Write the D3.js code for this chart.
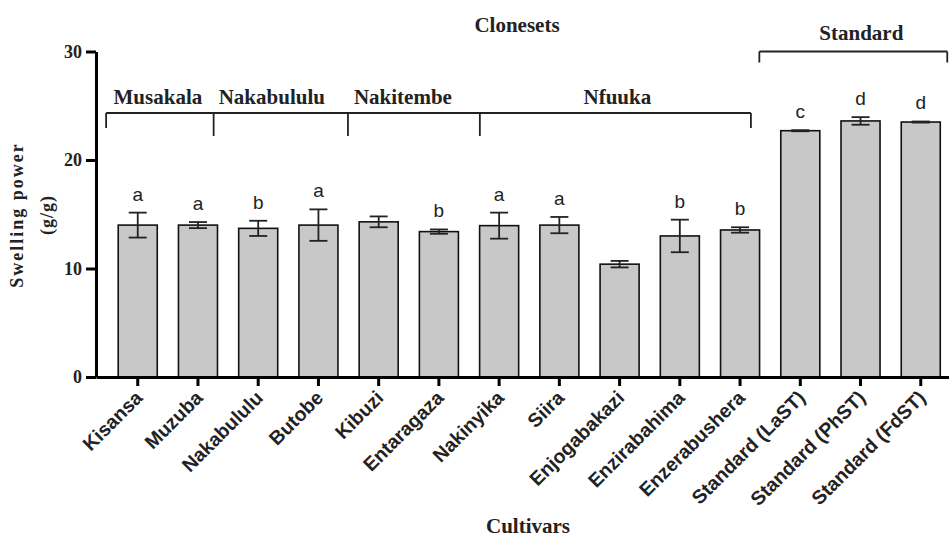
<!DOCTYPE html>
<html>
<head>
<meta charset="utf-8">
<script src="https://cdn.jsdelivr.net/npm/d3@7"></script>
<style>
  html, body { margin: 0; padding: 0; background: #fff; }
  svg { display: block; }
</style>
</head>
<body>
<svg id="chart" width="949" height="537"></svg>
<script>
// Swelling power (g/g) of banana cultivars and standard starches
const cultivars = ["Kisansa", "Muzuba", "Nakabululu", "Butobe", "Kibuzi", "Entaragaza",
  "Nakinyika", "Siira", "Enjogabakazi", "Enzirabahima", "Enzerabushera",
  "Standard (LaST)", "Standard (PhST)", "Standard (FdST)"];
const means = [14.0, 14.0, 13.7, 14.0, 14.3, 13.4, 13.95, 14.0, 10.4, 13.0, 13.55, 22.7, 23.6, 23.5];
const errors = [1.15, 0.28, 0.7, 1.45, 0.5, 0.2, 1.2, 0.75, 0.3, 1.5, 0.25, 0.05, 0.35, 0.05];
const letters = ["a", "a", "b", "a", "", "b", "a", "a", "", "b", "b", "c", "d", "d"];
const yTicks = [0, 10, 20, 30];

// clone-set groups
const cloneGroups = ["Musakala", "Nakabululu", "Nakitembe", "Nfuuka"];
const standardGroup = "Standard";
const standardRange = [11, 13];

const svg = d3.select("#chart");
const serif = "'Liberation Serif', 'Times New Roman', serif";
const sans = "'Liberation Sans', Arial, sans-serif";

const x0 = 96, yBase = 377, yTop = 51.5;
const x = d3.scaleBand().domain(cultivars).range([x0, 962.5])
  .paddingInner(0.352).paddingOuter(0.369);
const y = d3.scaleLinear().domain([0, 30]).range([yBase, yTop]);
const step = x.step();
const cx = i => x(cultivars[i]) + x.bandwidth() / 2;

// bars
svg.append("g").selectAll("rect").data(cultivars).join("rect")
  .attr("x", d => x(d))
  .attr("y", (d, i) => y(means[i]))
  .attr("width", x.bandwidth())
  .attr("height", (d, i) => yBase - y(means[i]))
  .attr("fill", "#c8c8c8")
  .attr("stroke", "#111")
  .attr("stroke-width", 1.6);

// error bars
const eb = svg.append("g").attr("stroke", "#222").attr("stroke-width", 1.8).attr("fill", "none");
cultivars.forEach((c, i) => {
  const xc = cx(i), hi = y(means[i] + errors[i]), lo = y(means[i] - errors[i]);
  eb.append("line").attr("x1", xc).attr("x2", xc).attr("y1", hi).attr("y2", lo);
  eb.append("line").attr("x1", xc - 9).attr("x2", xc + 9).attr("y1", hi).attr("y2", hi);
  eb.append("line").attr("x1", xc - 9).attr("x2", xc + 9).attr("y1", lo).attr("y2", lo);
});

// significance letters
svg.append("g").selectAll("text").data(cultivars).join("text")
  .attr("x", (d, i) => cx(i))
  .attr("y", (d, i) => y(means[i] + errors[i]) - 12)
  .attr("text-anchor", "middle")
  .attr("font-family", sans)
  .attr("font-size", 19)
  .attr("fill", "#222")
  .text((d, i) => letters[i]);

// y axis
const yAxis = svg.append("g").attr("transform", `translate(${x0},0)`)
  .call(d3.axisLeft(y).tickValues(yTicks).tickSize(10).tickSizeOuter(0).tickPadding(4));
yAxis.select(".domain").attr("stroke", "#000").attr("stroke-width", 3);
yAxis.selectAll(".tick line").attr("stroke", "#000").attr("stroke-width", 3);
yAxis.selectAll(".tick text")
  .attr("font-family", serif).attr("font-weight", "bold").attr("font-size", 18).attr("fill", "#222");

// x axis
const xAxis = svg.append("g").attr("transform", `translate(0,${yBase})`)
  .call(d3.axisBottom(x).tickSize(9).tickSizeOuter(0));
xAxis.select(".domain").attr("stroke", "#000").attr("stroke-width", 3);
xAxis.selectAll(".tick line").attr("stroke", "#000").attr("stroke-width", 3);
xAxis.selectAll(".tick text")
  .attr("x", 0).attr("y", 0).attr("dy", 0)
  .attr("transform", "translate(6,22) rotate(-45)")
  .attr("text-anchor", "end")
  .attr("font-family", sans).attr("font-weight", "bold").attr("font-size", 19.5).attr("fill", "#222");

// bracket helper: position between categories, offset in steps
const edge = (i, f) => cx(i) + f * step;
const br = svg.append("g").attr("stroke", "#222").attr("stroke-width", 1.8).attr("fill", "none");

// clone-set bracket
const cloneY = 113;
const cloneEdges = [edge(0, -0.525), edge(1, 0.26), edge(3, 0.49), edge(6, -0.32), edge(10, 0.18)];
br.append("line").attr("x1", cloneEdges[0]).attr("x2", cloneEdges[4]).attr("y1", cloneY).attr("y2", cloneY);
cloneEdges.forEach((e, k) => {
  const end = (k === 0 || k === cloneEdges.length - 1);
  br.append("line").attr("x1", e).attr("x2", e).attr("y1", cloneY).attr("y2", cloneY + (end ? 15 : 23));
});
const cloneLabelShift = [-2, -9, -11, 2];
cloneGroups.forEach((g, k) => {
  svg.append("text")
    .attr("x", (cloneEdges[k] + cloneEdges[k + 1]) / 2 + cloneLabelShift[k])
    .attr("y", 104)
    .attr("text-anchor", "middle")
    .attr("font-family", serif).attr("font-weight", "bold").attr("font-size", 21).attr("fill", "#222")
    .text(g);
});

// standard bracket
const stdY = 51.5;
const s0 = edge(standardRange[0], -0.68), s1 = edge(standardRange[1], 0.44);
br.append("line").attr("x1", s0).attr("x2", s1).attr("y1", stdY).attr("y2", stdY);
br.append("line").attr("x1", s0).attr("x2", s0).attr("y1", stdY).attr("y2", stdY + 11);
br.append("line").attr("x1", s1).attr("x2", s1).attr("y1", stdY).attr("y2", stdY + 11);
svg.append("text")
  .attr("x", (s0 + s1) / 2 + 8).attr("y", 40)
  .attr("text-anchor", "middle")
  .attr("font-family", serif).attr("font-weight", "bold").attr("font-size", 21).attr("fill", "#222")
  .text(standardGroup);

// titles
svg.append("text")
  .attr("x", 517).attr("y", 32)
  .attr("text-anchor", "middle")
  .attr("font-family", serif).attr("font-weight", "bold").attr("font-size", 21).attr("fill", "#222")
  .text("Clonesets");

svg.append("text")
  .attr("x", 528).attr("y", 533)
  .attr("text-anchor", "middle")
  .attr("font-family", serif).attr("font-weight", "bold").attr("font-size", 21).attr("fill", "#222")
  .text("Cultivars");

const yTitle = svg.append("g").attr("transform", "translate(0,215) rotate(-90)")
  .attr("font-family", serif).attr("font-weight", "bold").attr("fill", "#222")
  .attr("text-anchor", "middle");
yTitle.append("text").attr("x", 0).attr("y", 23).attr("font-size", 18)
  .attr("letter-spacing", 2).text("Swelling power");
yTitle.append("text").attr("x", 0).attr("y", 53).attr("font-size", 18)
  .attr("letter-spacing", 1).text("(g/g)");
</script>
</body>
</html>
